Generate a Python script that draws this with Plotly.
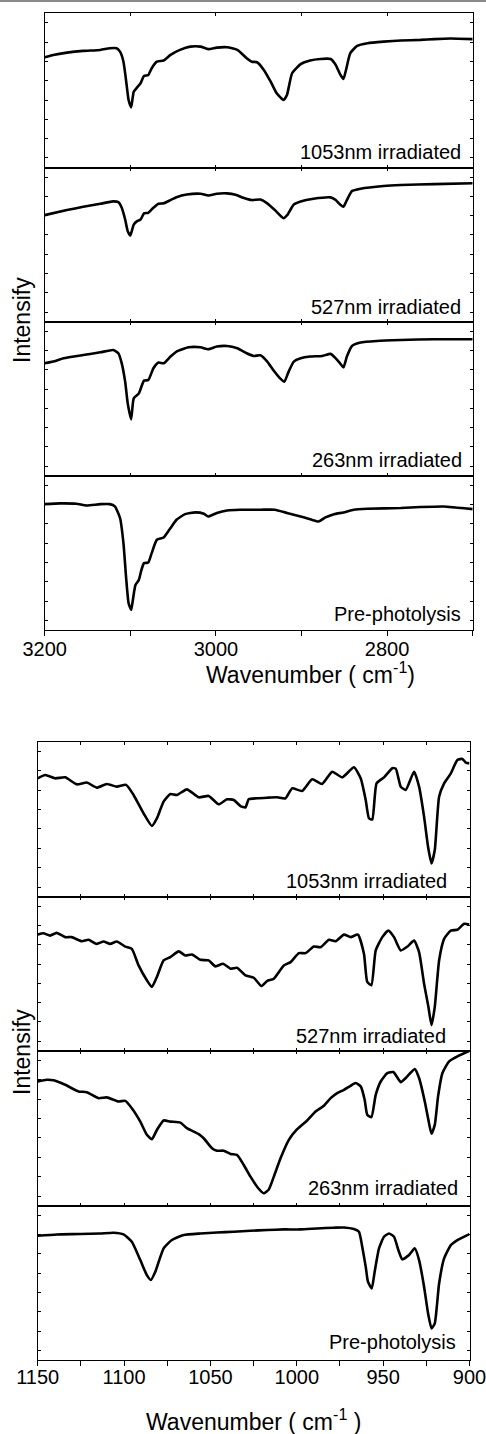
import plotly.graph_objects as go

# ---------------- data ----------------
# C-H stretch region (upper block)
wn_top_1053 = [3200, 3190, 3174, 3155, 3135, 3124, 3116, 3112, 3108, 3105, 3102, 3099, 3096, 3092, 3088,
               3084, 3079, 3075, 3069, 3061, 3053, 3042, 3030, 3018, 3009, 2999, 2987, 2975, 2964, 2958,
               2952, 2944, 2936, 2929, 2921, 2917, 2911, 2901, 2890, 2878, 2866, 2860, 2855, 2851, 2848,
               2843, 2835, 2823, 2804, 2784, 2761, 2745, 2726, 2700]
int_top_1053 = [5.72, 5.84, 5.96, 6.05, 6.10, 6.19, 6.19, 6.01, 5.49, 4.54, 3.50, 3.12, 3.93, 4.16, 4.37,
                4.75, 4.80, 5.15, 5.49, 5.55, 5.84, 6.10, 6.27, 6.27, 6.14, 6.22, 6.24, 6.10, 5.67, 5.49,
                5.46, 5.06, 4.45, 3.85, 3.50, 3.76, 4.89, 5.36, 5.55, 5.63, 5.63, 5.32, 4.85, 4.59, 5.06,
                5.93, 6.31, 6.45, 6.53, 6.59, 6.62, 6.66, 6.69, 6.66]

wn_top_527 = [3200, 3174, 3155, 3135, 3120, 3114, 3110, 3106, 3103, 3100, 3096, 3092, 3088, 3084, 3079,
              3073, 3067, 3061, 3053, 3046, 3034, 3018, 3009, 2999, 2987, 2977, 2968, 2958, 2948, 2940,
              2931, 2921, 2917, 2909, 2901, 2886, 2866, 2860, 2855, 2851, 2847, 2841, 2831, 2804, 2784,
              2745, 2700]
int_top_527 = [5.53, 5.79, 5.96, 6.12, 6.24, 6.20, 5.91, 5.30, 4.70, 4.47, 5.04, 5.22, 5.30, 5.62, 5.65,
               5.91, 6.12, 6.14, 6.31, 6.46, 6.60, 6.64, 6.55, 6.64, 6.66, 6.59, 6.43, 6.31, 6.34, 6.14,
               5.79, 5.37, 5.51, 6.08, 6.24, 6.38, 6.45, 6.31, 6.08, 5.96, 6.31, 6.78, 6.90, 7.04, 7.09,
               7.14, 7.18]

wn_top_263 = [3200, 3190, 3178, 3155, 3135, 3120, 3114, 3110, 3106, 3103, 3099, 3096, 3090, 3084, 3079,
              3073, 3067, 3061, 3053, 3046, 3032, 3018, 3009, 2999, 2987, 2975, 2964, 2956, 2948, 2940,
              2933, 2925, 2920, 2915, 2909, 2901, 2890, 2876, 2866, 2860, 2855, 2851, 2847, 2841, 2831,
              2812, 2784, 2745, 2700]
int_top_263 = [5.84, 5.93, 6.10, 6.27, 6.41, 6.53, 6.36, 5.84, 4.89, 3.76, 2.93, 4.02, 4.28, 4.94, 4.97,
               5.58, 5.88, 5.84, 6.19, 6.45, 6.67, 6.67, 6.57, 6.71, 6.74, 6.62, 6.36, 6.22, 6.26, 5.93,
               5.49, 5.06, 4.89, 5.41, 5.93, 6.10, 6.19, 6.22, 6.33, 6.10, 5.84, 5.63, 6.19, 6.74, 6.92,
               7.00, 7.05, 7.09, 7.09]

wn_top_pre = [3200, 3182, 3163, 3151, 3135, 3124, 3118, 3112, 3108, 3105, 3102, 3099, 3097, 3094, 3090,
              3087, 3084, 3079, 3075, 3069, 3061, 3053, 3046, 3036, 3024, 3014, 3009, 2999, 2987, 2972,
              2948, 2931, 2917, 2901, 2888, 2880, 2872, 2862, 2851, 2839, 2823, 2784, 2761, 2734, 2700]
int_top_pre = [6.53, 6.57, 6.55, 6.46, 6.53, 6.53, 6.41, 5.81, 4.51, 2.77, 1.39, 1.04, 1.56, 2.34, 2.60,
               3.12, 3.47, 3.50, 3.99, 4.68, 4.80, 5.29, 5.72, 6.01, 6.10, 6.03, 5.89, 6.07, 6.20, 6.24,
               6.24, 6.24, 6.07, 5.89, 5.72, 5.63, 5.84, 6.01, 6.10, 6.24, 6.29, 6.33, 6.38, 6.41, 6.27]

# fingerprint region (lower block)
wn_bot_1053 = [1150, 1145.7, 1139.9, 1134.1, 1127.4, 1121.6, 1115.8, 1110.0, 1104.2, 1098.8,
               1094.5, 1088.7, 1083.9, 1081.0, 1077.1, 1073.2, 1069.4, 1063.6, 1056.8, 1051.0,
               1045.2, 1040.4, 1036.5, 1032.6, 1029.7, 1027.8, 1023.0, 1017.2, 1011.4, 1006.5,
               1002.7, 996.9, 991.1, 985.3, 979.5, 973.7, 966.9, 963.0, 960.1, 958.2,
               956.3, 953.8, 949.5, 944.7, 942.7, 939.8, 936.9, 932.1, 929.2, 926.3,
               924.0, 922.0, 920.1, 917.6, 914.7, 910.8, 907.0, 904.1, 902.1, 900]
int_bot_1053 = [6.11, 6.28, 6.11, 6.16, 5.80, 5.89, 5.63, 5.82, 5.68, 5.77,
                5.25, 4.30, 3.65, 4.04, 4.91, 5.30, 5.25, 5.54, 5.13, 5.20,
                4.77, 5.03, 4.99, 4.68, 4.61, 5.03, 5.08, 5.11, 5.13, 5.08,
                5.59, 5.46, 6.06, 5.82, 6.45, 6.16, 6.68, 6.11, 4.99, 4.04,
                3.99, 5.85, 6.16, 6.63, 6.61, 5.68, 5.51, 6.45, 5.68, 4.13,
                2.58, 1.72, 2.41, 5.16, 5.85, 6.37, 7.06, 7.11, 6.92, 6.88]

wn_bot_527 = [1150, 1146.7, 1142.8, 1139.0, 1134.1, 1130.3, 1124.5, 1120.6, 1115.8, 1111.9,
              1108.0, 1104.2, 1099.3, 1095.5, 1091.6, 1086.8, 1083.9, 1081.0, 1077.1, 1073.2,
              1068.4, 1064.5, 1060.7, 1055.8, 1051.0, 1047.1, 1042.7, 1038.4, 1034.6, 1029.7,
              1024.9, 1020.5, 1017.2, 1013.3, 1007.5, 1003.6, 998.8, 994.9, 990.1, 986.2,
              981.4, 977.5, 972.7, 968.8, 964.6, 961.1, 959.2, 956.8, 954.3, 950.5,
              947.0, 943.7, 939.8, 935.9, 932.1, 929.2, 926.3, 923.8, 922.0, 920.1,
              917.6, 914.7, 910.8, 907.0, 903.1, 900]
int_bot_527 = [6.03, 6.10, 5.98, 6.12, 5.90, 5.90, 5.69, 5.76, 5.55, 5.67,
               5.55, 5.67, 5.41, 5.29, 4.43, 3.66, 3.31, 3.83, 4.69, 4.86,
               5.16, 4.95, 5.00, 4.72, 4.69, 4.38, 4.52, 4.26, 4.31, 3.91,
               3.79, 3.36, 3.62, 3.74, 4.43, 4.60, 5.07, 5.07, 5.41, 5.38,
               5.76, 5.69, 6.03, 5.90, 6.03, 5.03, 3.57, 3.40, 5.21, 5.90,
               6.24, 5.90, 5.21, 5.41, 5.72, 5.12, 3.48, 2.28, 1.33, 2.28,
               4.69, 5.81, 6.24, 6.28, 6.59, 6.55]

wn_bot_263 = [1150, 1144.8, 1140.9, 1134.1, 1126.4, 1121.6, 1114.8, 1110.0, 1103.2, 1099.3,
              1095.5, 1090.6, 1086.8, 1083.9, 1081.0, 1077.1, 1073.2, 1067.4, 1063.6, 1056.8,
              1053.9, 1049.1, 1046.2, 1042.3, 1038.4, 1034.6, 1030.7, 1026.8, 1023.0, 1019.1,
              1016.2, 1013.3, 1009.4, 1004.6, 999.8, 994.0, 989.1, 984.3, 980.4, 976.6,
              972.7, 968.8, 965.9, 963.0, 960.7, 959.2, 956.8, 954.3, 951.4, 947.6,
              944.1, 939.8, 936.9, 931.7, 929.2, 925.9, 923.8, 922.0, 920.1, 918.2,
              915.7, 911.8, 907.0, 900]
int_bot_263 = [6.41, 6.50, 6.47, 6.24, 5.90, 5.86, 5.55, 5.59, 5.38, 5.41,
               5.03, 4.34, 3.66, 3.43, 3.91, 4.40, 4.34, 4.29, 4.00, 3.69,
               3.48, 2.97, 2.84, 2.84, 2.67, 2.62, 2.10, 1.50, 0.98, 0.64,
               0.84, 1.50, 2.45, 3.40, 3.95, 4.40, 4.86, 5.16, 5.55, 5.81,
               5.98, 6.19, 6.33, 6.16, 5.47, 4.69, 4.57, 5.72, 6.41, 6.84,
               6.90, 6.38, 6.59, 7.05, 6.59, 5.38, 4.43, 3.71, 4.17, 5.64,
               6.84, 7.45, 7.71, 8.0]

wn_bot_pre = [1150, 1139.0, 1125.4, 1113.8, 1106.1, 1100.3, 1095.5, 1090.6, 1086.8, 1084.5,
              1081.9, 1077.1, 1072.3, 1065.5, 1055.8, 1046.2, 1036.5, 1026.8, 1017.2, 1007.5,
              997.8, 988.2, 978.5, 972.7, 966.9, 964.0, 962.1, 960.1, 958.8, 956.6,
              954.9, 952.4, 949.5, 946.6, 943.7, 941.2, 938.9, 935.0, 931.7, 929.2,
              926.3, 924.0, 922.0, 920.1, 917.6, 914.7, 910.8, 907.0, 900]
int_bot_pre = [6.44, 6.51, 6.53, 6.56, 6.60, 6.51, 6.13, 5.18, 4.40, 4.15,
               4.58, 5.79, 6.22, 6.48, 6.56, 6.61, 6.65, 6.70, 6.74, 6.77,
               6.77, 6.82, 6.86, 6.87, 6.79, 6.65, 5.87, 4.84, 4.06, 3.71,
               4.58, 5.79, 6.39, 6.56, 6.39, 5.70, 5.22, 5.44, 5.79, 5.18,
               3.80, 2.42, 1.64, 1.90, 3.97, 5.27, 5.96, 6.22, 6.53]

labels = ["1053nm irradiated", "527nm irradiated", "263nm irradiated", "Pre-photolysis"]

top_major = [3200, 3000, 2800]
top_minor = [3100, 2900, 2700]
bot_major = [1150, 1100, 1050, 1000, 950, 900]
bot_minor = [1125, 1075, 1025, 975, 925]
y_tickvals = [0.5, 1.5, 2.5, 3.5, 4.5, 5.5, 6.5, 7.5]

y_title = "Intensify"
x_title_top = "Wavenumber ( cm<sup>-1</sup>)"
x_title_bot = "Wavenumber ( cm<sup>-1</sup> )"

# ---------------- layout geometry (pixels) ----------------
W, H = 486, 1434
FONT = "Liberation Sans, Arial, Helvetica, sans-serif"


def fx(px):
    return px / W


def fy(px):
    return 1 - px / H


top_bounds = [13.3, 167.5, 321.7, 475.8, 630.0]
bot_bounds = [741.7, 896.7, 1050.7, 1205.7, 1360.0]
top_xpx = (44.7, 472.7)
bot_xpx = (37.7, 469.5)

panels = [
    # (x, y, label, block, slot, label right gap px, label baseline px above bottom)
    (wn_top_1053, int_top_1053, labels[0], "top", 0, 10, 9),
    (wn_top_527, int_top_527, labels[1], "top", 1, 10, 7.5),
    (wn_top_263, int_top_263, labels[2], "top", 2, 8.5, 9),
    (wn_top_pre, int_top_pre, labels[3], "top", 3, 9.5, 9),
    (wn_bot_1053, int_bot_1053, labels[0], "bot", 0, 20, 9),
    (wn_bot_527, int_bot_527, labels[1], "bot", 1, 21, 7.5),
    (wn_bot_263, int_bot_263, labels[2], "bot", 2, 9.5, 10.5),
    (wn_bot_pre, int_bot_pre, labels[3], "bot", 3, 11, 11.5),
]

fig = go.Figure()
layout = dict(
    width=W, height=H,
    margin=dict(l=0, r=0, t=0, b=0, autoexpand=False),
    paper_bgcolor="white", plot_bgcolor="white",
    showlegend=False,
    font=dict(family=FONT, color="black", size=20),
)
annotations = []

for i, (xs, ys, lab, block, slot, rgap, base) in enumerate(panels, start=1):
    xa = "xaxis" if i == 1 else f"xaxis{i}"
    ya = "yaxis" if i == 1 else f"yaxis{i}"
    xr = "x" if i == 1 else f"x{i}"
    yr = "y" if i == 1 else f"y{i}"
    bounds = top_bounds if block == "top" else bot_bounds
    xpx = top_xpx if block == "top" else bot_xpx
    rng = [3200, 2700] if block == "top" else [1150, 900]
    major = top_major if block == "top" else bot_major
    minor = top_minor if block == "top" else bot_minor
    is_bottom = slot == 3

    fig.add_trace(go.Scatter(x=xs, y=ys, mode="lines",
                             line=dict(color="black", width=2.6, shape="spline", smoothing=0.5),
                             xaxis=xr, yaxis=yr, hoverinfo="skip"))

    xdict = dict(
        domain=[fx(xpx[0]), fx(xpx[1])], range=rng, anchor=yr,
        automargin=False,
        showgrid=False, zeroline=False,
        showline=True, linecolor="black", linewidth=1,
        tickmode="array", tickvals=major, tickcolor="black", tickwidth=1,
    )
    if is_bottom:
        xdict.update(ticks="outside", ticklen=5, mirror=True,
                     showticklabels=True, ticklabeloverflow="allow",
                     ticklabelstandoff=-4 if block == "top" else -6,
                     tickfont=dict(family=FONT, size=20, color="black"),
                     minor=dict(tickmode="array", tickvals=minor, ticks="outside",
                                ticklen=5, tickwidth=1, tickcolor="black",
                                showgrid=False))
    else:
        xdict.update(ticks="inside", ticklen=3, mirror="ticks",
                     showticklabels=False,
                     minor=dict(tickmode="array", tickvals=minor, ticks="inside",
                                ticklen=3, tickwidth=1, tickcolor="black",
                                showgrid=False))
    layout[xa] = xdict

    layout[ya] = dict(
        domain=[fy(bounds[slot + 1]), fy(bounds[slot])], range=[0, 8], anchor=xr,
        automargin=False,
        showgrid=False, zeroline=False,
        showline=True, linecolor="black", linewidth=1, mirror="ticks",
        ticks="inside", ticklen=3, tickwidth=1, tickcolor="black",
        tickmode="array", tickvals=y_tickvals,
        showticklabels=False,
    )

    annotations.append(dict(
        text=lab, xref=f"{xr} domain", yref=f"{yr} domain",
        x=1, y=0, xanchor="right", yanchor="bottom",
        xshift=-rgap, yshift=base - 6,
        showarrow=False, font=dict(family=FONT, size=20, color="black"),
    ))

# axis titles
annotations += [
    dict(text=x_title_top, xref="paper", yref="paper", x=fx(310), y=fy(672.5),
         xanchor="center", yanchor="middle", showarrow=False,
         font=dict(family=FONT, size=23, color="black")),
    dict(text=x_title_bot, xref="paper", yref="paper", x=fx(253), y=fy(1420),
         xanchor="center", yanchor="middle", showarrow=False,
         font=dict(family=FONT, size=23, color="black")),
    dict(text=y_title, xref="paper", yref="paper", x=fx(22), y=fy(320),
         xanchor="center", yanchor="middle", textangle=-90, showarrow=False,
         font=dict(family=FONT, size=23, color="black")),
    dict(text=y_title, xref="paper", yref="paper", x=fx(22), y=fy(1052),
         xanchor="center", yanchor="middle", textangle=-90, showarrow=False,
         font=dict(family=FONT, size=23, color="black")),
]
layout["annotations"] = annotations
layout["shapes"] = [
    dict(type="line", xref="paper", yref="paper", x0=0, x1=1, y0=fy(1), y1=fy(1),
         line=dict(color="#8a8a8a", width=2)),
]

fig.update_layout(**layout)
fig.write_html("out.html")
